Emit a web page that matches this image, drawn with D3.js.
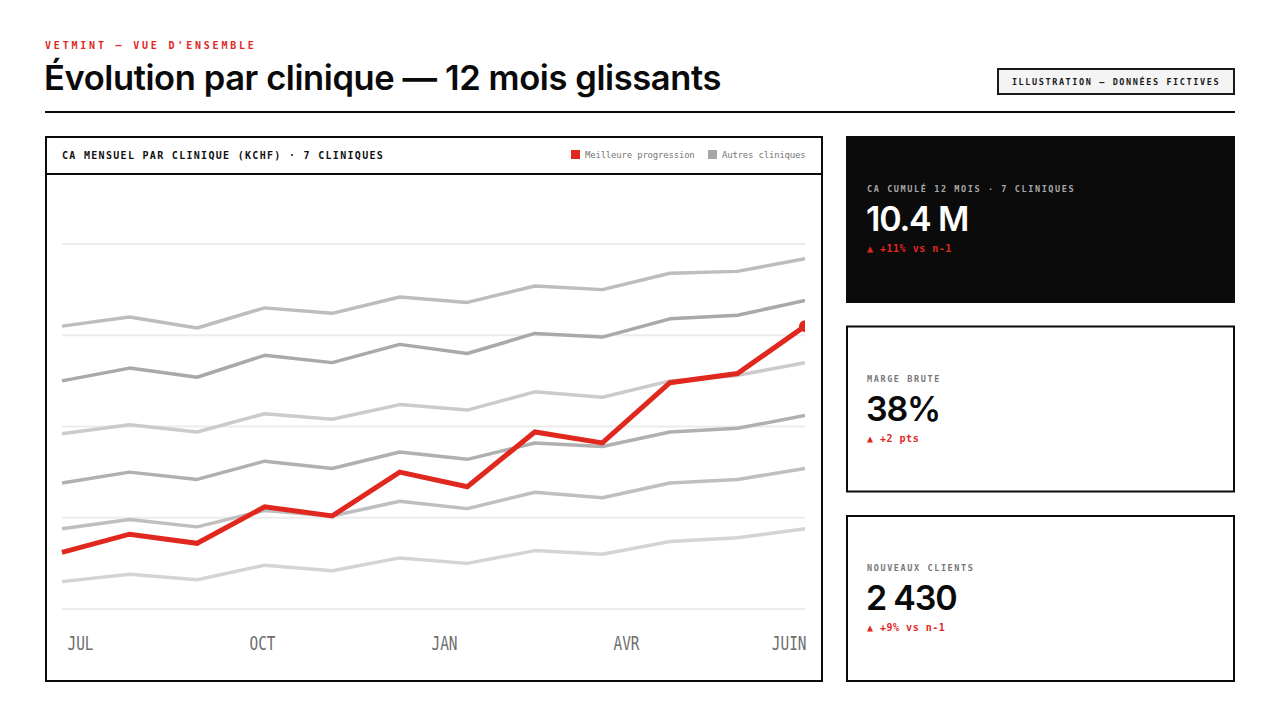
<!DOCTYPE html>
<html>
<head>
	<meta charset="utf-8">
	<title>Évolution par clinique</title>
	<script src="https://cdn.jsdelivr.net/npm/d3@7"></script>
	<style>
		html, body { margin: 0; padding: 0; background: #fff; }
		body { width: 1280px; height: 720px; overflow: hidden; }
		svg text { font-family: "DejaVu Sans Mono", monospace; }
		.display { font-family: Inter, "Noto Sans", sans-serif; }
	</style>
</head>
<body>
	<div id="chart"></div>
	<script>

	// data
	const months = ["JUL", "AOÛ", "SEP", "OCT", "NOV", "DÉC", "JAN", "FÉV", "MAR", "AVR", "MAI", "JUIN"];
	const tickMonths = ["JUL", "OCT", "JAN", "AVR", "JUIN"];

	// kCHF per month, one array per clinic
	const clinicA = [155, 160, 154, 165, 162, 171, 168, 177, 175, 184, 185, 192];
	const clinicB = [125, 132, 127, 139, 135, 145, 140, 151, 149, 159, 161, 169];
	const clinicC = [96, 101, 97, 107, 104, 112, 109, 119, 116, 125, 128, 135];
	const clinicD = [69, 75, 71, 81, 77, 86, 82, 91, 89, 97, 99, 106];
	const clinicE = [44, 49, 45, 54, 51, 59, 55, 64, 61, 69, 71, 77];
	const clinicF = [15, 19, 16, 24, 21, 28, 25, 32, 30, 37, 39, 44];
	const bestClinic = [31, 41, 36, 56, 51, 75, 67, 97, 91, 124, 129, 155];

	const others = [clinicA, clinicB, clinicC, clinicD, clinicE, clinicF];
	const otherColors = ["#bdbdbd", "#a9a9a9", "#cbcbcb", "#b0b0b0", "#bfbfbf", "#d4d4d4"];
	const yTicks = [0, 50, 100, 150, 200];

	const kpis = [
		{ label: "CA CUMULÉ 12 MOIS · 7 CLINIQUES", value: "10.4 M", delta: "▲ +11% vs n-1", dark: true },
		{ label: "MARGE BRUTE", value: "38%", delta: "▲ +2 pts", dark: false },
		{ label: "NOUVEAUX CLIENTS", value: "2 430", delta: "▲ +9% vs n-1", dark: false },
	];

	const red = "#e0281f";
	const W = 1280, H = 720;

	const svg = d3.select("#chart").append("svg")
		.attr("width", W).attr("height", H)
		.attr("viewBox", [0, 0, W, H]);

	// header
	svg.append("text")
		.attr("x", 45).attr("y", 49)
		.attr("fill", red)
		.attr("font-size", 10).attr("font-weight", 700)
		.attr("letter-spacing", 2.8)
		.text("VETMINT — VUE D'ENSEMBLE");

	svg.append("text")
		.attr("class", "display")
		.attr("x", 44).attr("y", 90)
		.attr("fill", "#0a0a0a")
		.attr("font-size", 34.5).attr("font-weight", 600)
		.attr("letter-spacing", -0.4)
		.text("Évolution par clinique — 12 mois glissants");

	svg.append("rect")
		.attr("x", 998).attr("y", 69).attr("width", 236).attr("height", 25)
		.attr("fill", "#f4f4f4").attr("stroke", "#1a1a1a").attr("stroke-width", 2);
	svg.append("text")
		.attr("x", 1116).attr("y", 85)
		.attr("text-anchor", "middle")
		.attr("fill", "#1a1a1a")
		.attr("font-size", 8.5).attr("font-weight", 700)
		.attr("letter-spacing", 1.6)
		.text("ILLUSTRATION — DONNÉES FICTIVES");

	svg.append("line")
		.attr("x1", 45).attr("x2", 1235).attr("y1", 112).attr("y2", 112)
		.attr("stroke", "#0a0a0a").attr("stroke-width", 2);

	// chart panel
	const panel = svg.append("g");
	panel.append("rect")
		.attr("x", 46).attr("y", 137).attr("width", 776).attr("height", 544)
		.attr("fill", "#fff").attr("stroke", "#0a0a0a").attr("stroke-width", 2);
	panel.append("line")
		.attr("x1", 46).attr("x2", 822).attr("y1", 174).attr("y2", 174)
		.attr("stroke", "#0a0a0a").attr("stroke-width", 2);
	panel.append("text")
		.attr("x", 62).attr("y", 159)
		.attr("fill", "#111")
		.attr("font-size", 10).attr("font-weight", 700)
		.attr("letter-spacing", 1.3)
		.text("CA MENSUEL PAR CLINIQUE (KCHF) · 7 CLINIQUES");

	// legend
	const legend = [
		{ name: "Meilleure progression", color: red, x: 571 },
		{ name: "Autres cliniques", color: "#a6a6a6", x: 708 },
	];
	const lg = panel.selectAll("g.lg").data(legend).join("g")
		.attr("transform", d => `translate(${d.x},150)`);
	lg.append("rect").attr("width", 9).attr("height", 9).attr("fill", d => d.color);
	lg.append("text")
		.attr("x", 14).attr("y", 8)
		.attr("fill", "#777")
		.attr("font-size", 9)
		.attr("letter-spacing", -0.2)
		.text(d => d.name);

	// scales
	const x = d3.scalePoint().domain(months).range([62, 805]);
	const y = d3.scaleLinear().domain([0, 200]).range([609, 244]);
	// the month labels sit in their own evenly spaced row
	const xLabel = d3.scalePoint().domain(tickMonths).range([67, 795]);

	// grid
	panel.append("g")
		.selectAll("line").data(yTicks).join("line")
		.attr("x1", 62).attr("x2", 805)
		.attr("y1", d => y(d)).attr("y2", d => y(d))
		.attr("stroke", "#ececec").attr("stroke-width", 2);

	// x labels
	const sx = 0.76;
	const xAxis = d3.axisBottom(xLabel).tickSize(0).tickPadding(0);
	panel.append("g")
		.attr("transform", "translate(0,637)")
		.call(xAxis)
		.call(g => g.select(".domain").remove())
		.call(g => g.selectAll(".tick text")
			.attr("font-family", "'DejaVu Sans Mono', monospace")
			.attr("font-size", 19)
			.attr("fill", "#6e6e6e")
			.attr("dy", "0.71em")
			.attr("transform", `scale(${sx},1)`)
			.attr("text-anchor", (d, i) => i === tickMonths.length - 1 ? "end" : "start")
			.attr("x", (d, i) => i === tickMonths.length - 1 ? 11 / sx : 0));

	svg.append("clipPath").attr("id", "plot")
		.append("rect").attr("x", 56).attr("y", 180).attr("width", 749).attr("height", 440);

	const line = d3.line()
		.x((d, i) => x(months[i]))
		.y(d => y(d));

	const lines = panel.append("g").attr("clip-path", "url(#plot)");
	lines.selectAll("path.other").data(others).join("path")
		.attr("class", "other")
		.attr("fill", "none")
		.attr("stroke", (d, i) => otherColors[i])
		.attr("stroke-width", 3.5)
		.attr("stroke-linejoin", "round")
		.attr("d", line);

	lines.append("path")
		.attr("fill", "none")
		.attr("stroke", red)
		.attr("stroke-width", 5)
		.attr("stroke-linejoin", "miter")
		.attr("d", line(bestClinic));
	lines.append("circle")
		.attr("cx", x(months[months.length - 1]))
		.attr("cy", y(bestClinic[bestClinic.length - 1]))
		.attr("r", 6)
		.attr("fill", red);

	// KPI cards
	const cards = svg.selectAll("g.card").data(kpis).join("g")
		.attr("class", "card")
		.attr("transform", (d, i) => `translate(846,${136 + i * 189.5})`);
	cards.append("rect")
		.attr("x", d => d.dark ? 0 : 1).attr("y", d => d.dark ? 0 : 1)
		.attr("width", d => d.dark ? 389 : 387).attr("height", d => d.dark ? 167 : 165)
		.attr("fill", d => d.dark ? "#0b0b0b" : "#fff")
		.attr("stroke", d => d.dark ? "none" : "#0a0a0a")
		.attr("stroke-width", 2);
	cards.append("text")
		.attr("x", 21).attr("y", 56)
		.attr("fill", d => d.dark ? "#a8a8a8" : "#777")
		.attr("font-size", 8.5).attr("font-weight", 700)
		.attr("letter-spacing", 1.6)
		.text(d => d.label);
	cards.append("text")
		.attr("class", "display")
		.attr("x", 20).attr("y", 95)
		.attr("fill", d => d.dark ? "#fff" : "#0a0a0a")
		.attr("font-size", 34).attr("font-weight", 600)
		.attr("letter-spacing", -1.2)
		.text(d => d.value);
	cards.append("text")
		.attr("x", 21).attr("y", 116)
		.attr("fill", red)
		.attr("font-size", 10).attr("font-weight", 700)
		.attr("letter-spacing", 0.5)
		.text(d => d.delta);

	</script>
</body>
</html>
